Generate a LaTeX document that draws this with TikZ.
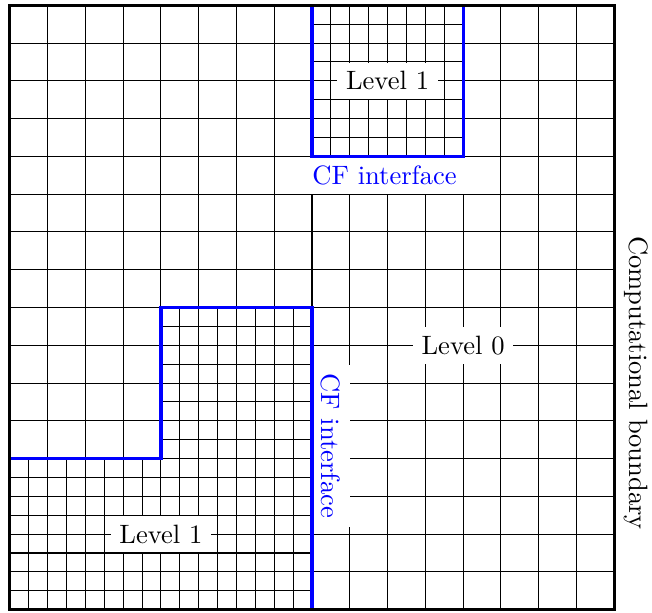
\documentclass[tikz,border=0pt]{standalone}
\begin{document}
\begin{tikzpicture}[
  gridline/.style={line width=0.4pt, black},
  cfline/.style={blue, line width=1.2pt},
  boxline/.style={black, line width=1.2pt},
  lbl/.style={fill=white},
  cflbl/.style={fill=white, text=blue}
]
\useasboundingbox (-0.13,-0.04) rectangle (8.5,8.07);
\draw[gridline] (4,6) grid[step=0.25] (6,8);
\draw[gridline] (0,0) grid[step=0.25] (4,2);
\draw[gridline] (2,2) grid[step=0.25] (4,4);
\draw[gridline] (0,0) grid[step=0.5] (8,8);
\node[lbl] (l1top) at (5,7) {Level 1};
\node[lbl] (l0) at (6,3.5) {Level 0};
\node[lbl] (l1bot) at (2,1) {Level 1};
\node[cflbl, anchor=north] (cftop) at (4.96,6) {CF interface};
\node[cflbl, anchor=south, rotate=-90] (cfside) at (4,2.17) {CF interface};
\node[anchor=south, rotate=-90] (cb) at (8,3) {Computational boundary};
\draw[cfline] (4,8) -- (4,6) -- (6,6) -- (6,8);
\draw[cfline] (0,2) -- (2,2) -- (2,4) -- (4,4) -- (4,0);
\draw[boxline] (0,0) rectangle (8,8);
\end{tikzpicture}
\end{document}
